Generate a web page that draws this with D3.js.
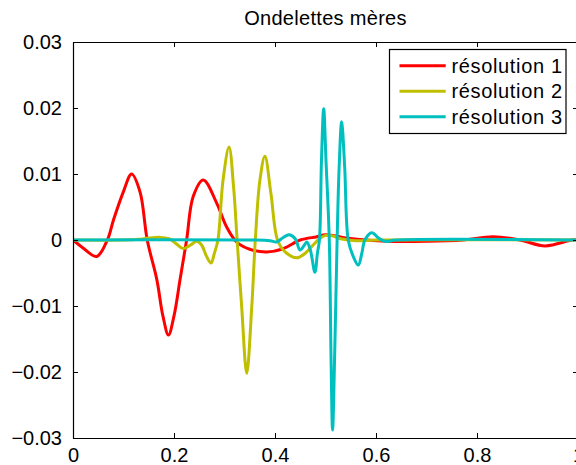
<!DOCTYPE html>
<html><head><meta charset="utf-8">
<script src="https://cdn.jsdelivr.net/npm/d3@7"></script>
<style>
html,body{margin:0;padding:0;background:#fff;overflow:hidden;}
svg{display:block;font-family:"Liberation Sans",Arial,Helvetica,sans-serif;}
</style></head>
<body>
<svg id="chart" width="576" height="465"></svg>
<script>
const title = "Ondelettes mères";
const seriesNames = ["résolution 1", "résolution 2", "résolution 3"];
const seriesColors = ["#ff0000", "#bfbf00", "#00bfbf"];
const xTicks = [0, 0.2, 0.4, 0.6, 0.8, 1];
const yTicks = [0.03, 0.02, 0.01, 0, -0.01, -0.02, -0.03];

const res1X = [0, 0.02, 0.047, 0.068, 0.08, 0.0997, 0.116, 0.1327, 0.147, 0.166, 0.178, 0.189, 0.2, 0.212, 0.225, 0.238, 0.258, 0.2845, 0.304, 0.324, 0.35, 0.3835, 0.4165, 0.45, 0.483, 0.5, 0.52, 0.542, 0.58, 0.62, 0.7, 0.772, 0.832, 0.885, 0.935, 0.988, 1];
const res1Y = [0, -0.0012, -0.0025, 0, 0.003, 0.0073, 0.010, 0.0073, 0, -0.006, -0.0115, -0.0144, -0.0115, -0.006, 0, 0.0066, 0.0091, 0.0056, 0.002, -0.0003, -0.0014, -0.0018, -0.0013, 0, 0.0005, 0.0008, 0.0006, 0.0003, 0, -0.0002, -0.0002, 0, 0.0005, 0, -0.0009, 0, 0];

const res2X = [0, 0.1, 0.13, 0.15, 0.172, 0.19, 0.205, 0.218, 0.232, 0.245, 0.255, 0.264, 0.2733, 0.28, 0.287, 0.297, 0.309, 0.318, 0.325, 0.334, 0.344, 0.354, 0.361, 0.37, 0.38, 0.392, 0.405, 0.42, 0.443, 0.46, 0.475, 0.49, 0.5, 0.515, 0.53, 0.56, 0.6, 1];
const res2Y = [0, 0, 0.0001, 0.0003, 0.0004, 0.0002, -0.0006, -0.0013, -0.0008, -0.0002, -0.0008, -0.0024, -0.0035, -0.002, 0, 0.009, 0.0141, 0.008, 0, -0.0101, -0.0202, -0.0101, 0, 0.009, 0.0127, 0.007, 0, -0.0018, -0.0027, -0.002, -0.0008, 0.0003, 0.0007, 0.0006, 0.0002, -0.0001, 0, 0];

const res3X = [0, 0.35, 0.39, 0.403, 0.415, 0.428, 0.44, 0.4495, 0.458, 0.463, 0.47, 0.479, 0.484, 0.488, 0.492, 0.4964, 0.501, 0.5075, 0.511, 0.514, 0.518, 0.523, 0.527, 0.532, 0.538, 0.545, 0.555, 0.565, 0.572, 0.578, 0.5915, 0.605, 0.618, 0.64, 1];
const res3Y = [0, 0, -0.0001, -0.0003, 0.0003, 0.0008, 0.0002, -0.0015, -0.0008, -0.0003, -0.0015, -0.0049, -0.002, 0, 0.012, 0.0199, 0.012, 0, -0.018, -0.0288, -0.018, 0, 0.011, 0.0179, 0.011, 0, -0.0025, -0.0038, -0.002, 0, 0.0011, 0.0003, -0.0002, 0, 0];

const seriesX = [res1X, res2X, res3X];
const seriesY = [res1Y, res2Y, res3Y];

const svg = d3.select("#chart");
const L = 73, R = 578, T = 42, B = 438;
const x = d3.scaleLinear().domain([0, 1]).range([L, R]);
const y = d3.scaleLinear().domain([-0.03, 0.03]).range([B, T]);
const fs = 20;

svg.append("defs").append("clipPath").attr("id", "clip")
  .append("rect").attr("x", L).attr("y", T).attr("width", R - L).attr("height", B - T);

const line = d3.line().x(d => x(d[0])).y(d => y(d[1])).curve(d3.curveCatmullRom.alpha(0.5));
const g = svg.append("g").attr("clip-path", "url(#clip)");
seriesX.forEach((xs, i) => {
  const pts = xs.map((v, j) => [v, seriesY[i][j]]);
  g.append("path").datum(pts).attr("d", line).attr("fill", "none")
    .attr("stroke", seriesColors[i]).attr("stroke-width", 3)
    .attr("stroke-linejoin", "round").attr("stroke-linecap", "round");
});

const fmt = v => (v === 0 ? "0" : d3.format(".2~f")(v)).replace("-", "\u2212");
const fmtX = v => (v === 0 ? "0" : v === 1 ? "1" : d3.format(".1f")(v));

// axes
const axB = svg.append("g").attr("transform", `translate(0,${B})`)
  .call(d3.axisBottom(x).tickValues(xTicks).tickSizeInner(-5).tickSizeOuter(0).tickPadding(10).tickFormat(fmtX));
const axT = svg.append("g").attr("transform", `translate(0,${T})`)
  .call(d3.axisTop(x).tickValues(xTicks).tickSizeInner(-5).tickSizeOuter(0).tickFormat(""));
const axL = svg.append("g").attr("transform", `translate(${L},0)`)
  .call(d3.axisLeft(y).tickValues(yTicks).tickSizeInner(-5).tickSizeOuter(0).tickPadding(11).tickFormat(fmt));
const axR = svg.append("g").attr("transform", `translate(${R},0)`)
  .call(d3.axisRight(y).tickValues(yTicks).tickSizeInner(-5).tickSizeOuter(0).tickFormat(""));
[axB, axT, axL, axR].forEach(a => {
  a.selectAll("path.domain").attr("stroke", "#000").attr("stroke-width", 1.2);
  a.selectAll(".tick line").attr("stroke", "#000").attr("stroke-width", 1);
  a.selectAll("text").attr("font-size", fs).attr("fill", "#000")
    .attr("font-family", '"Liberation Sans",Arial,Helvetica,sans-serif');
});
axB.selectAll("text").attr("dy", "0.71em");

svg.append("text").attr("x", (L + R) / 2).attr("y", 25).attr("text-anchor", "middle")
  .attr("font-size", fs).attr("letter-spacing", 0.3).attr("fill", "#000").text(title);

// legend
const lg = svg.append("g");
lg.append("rect").attr("x", 389.5).attr("y", 49.5).attr("width", 176.5).attr("height", 84)
  .attr("fill", "#fff").attr("stroke", "#000").attr("stroke-width", 1.2);
seriesNames.forEach((n, i) => {
  const yy = 65.7 + i * 25.5;
  lg.append("line").attr("x1", 399.5).attr("x2", 445.7).attr("y1", yy).attr("y2", yy)
    .attr("stroke", seriesColors[i]).attr("stroke-width", 3);
  lg.append("text").attr("x", 451.5).attr("y", yy).attr("dy", "0.36em")
    .attr("font-size", fs).attr("letter-spacing", 0.65).attr("fill", "#000").text(n);
});
</script>
</body></html>
